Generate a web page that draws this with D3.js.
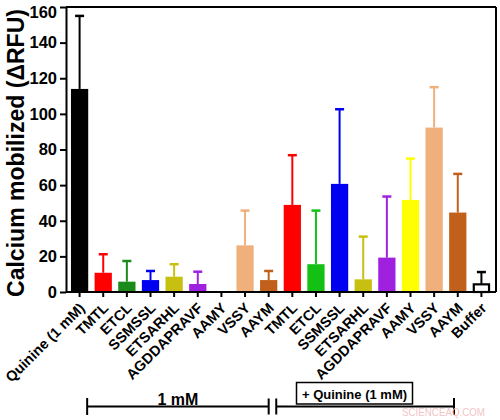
<!DOCTYPE html>
<html>
<head>
<meta charset="utf-8">
<script src="https://cdn.jsdelivr.net/npm/d3@7"></script>
<style>
  html, body { margin: 0; padding: 0; background: #fff; }
  svg { display: block; font-family: "Liberation Sans", Arial, Helvetica, sans-serif; }
</style>
</head>
<body>
<svg id="chart" width="500" height="420"></svg>
<script>
// ---- data ----
const categories = ["Quinine (1 mM)", "TMTL", "ETCL", "SSMSSL", "ETSARHL", "AGDDAPRAVF", "AAMY", "VSSY", "AAYM",
                    "TMTL", "ETCL", "SSMSSL", "ETSARHL", "AGDDAPRAVF", "AAMY", "VSSY", "AAYM", "Buffer"];
const means = [114, 10.8, 5.8, 6.7, 8.6, 4.5, 0, 26.2, 6.7,
               48.9, 15.6, 60.7, 7.1, 19.3, 51.7, 92.3, 44.6, 4.3];
const errors = [41, 10.4, 11.6, 5.1, 7.0, 6.9, 0, 19.5, 5.1,
                27.9, 30.1, 41.9, 24.0, 34.3, 23.2, 22.7, 21.7, 6.9];
const fillColors = ["#000000", "#ff0000", "#1a8a1a", "#0000f0", "#c8c010", "#a020e0", "#ffff00", "#f0b07c", "#c0601a",
                    "#ff0000", "#14c014", "#0000f0", "#c8c010", "#a020e0", "#ffff00", "#f0b07c", "#c0601a", "#ffffff"];
const lineColors = ["#000000", "#ff0000", "#1a8a1a", "#0000f0", "#c8c010", "#a020e0", "#ffff00", "#f0b07c", "#c0601a",
                    "#ff0000", "#14c014", "#0000f0", "#c8c010", "#a020e0", "#ffff00", "#f0b07c", "#c0601a", "#000000"];
const yTicks = [0, 20, 40, 60, 80, 100, 120, 140, 160];
const yTitle = "Calcium mobilized (\u0394RFU)";
const groupLabels = ["1 mM", "+ Quinine (1 mM)"];
const watermark = "SCIENCEAQ.COM";

// ---- layout ----
const svg = d3.select("#chart");
const pLeft = 66, pRight = 496, pTop = 7, pBottom = 292;

const x = d3.scaleBand().domain(d3.range(categories.length))
  .range([pLeft, 495]).paddingInner(0.27).paddingOuter(0.21);
const y = d3.scaleLinear().domain([0, 160]).range([pBottom, pTop]);

const data = categories.map((c, i) => ({ i, c, m: means[i], e: errors[i], f: fillColors[i], s: lineColors[i] }));

// error bars (drawn under bars)
const eb = svg.append("g").selectAll("g").data(data.filter(d => d.m > 0)).join("g");
eb.append("line")
  .attr("x1", d => x(d.i) + x.bandwidth() / 2).attr("x2", d => x(d.i) + x.bandwidth() / 2)
  .attr("y1", d => y(d.m)).attr("y2", d => y(d.m + d.e))
  .attr("stroke", d => d.s).attr("stroke-width", 2);
eb.append("line")
  .attr("x1", d => x(d.i) + x.bandwidth() / 2 - 4.5).attr("x2", d => x(d.i) + x.bandwidth() / 2 + 4.5)
  .attr("y1", d => y(d.m + d.e)).attr("y2", d => y(d.m + d.e))
  .attr("stroke", d => d.s).attr("stroke-width", 2.5);

// bars
svg.append("g").selectAll("rect").data(data.filter(d => d.m > 0)).join("rect")
  .attr("x", d => x(d.i) + (d.c === "Buffer" ? 1 : 0))
  .attr("width", d => x.bandwidth() - (d.c === "Buffer" ? 2 : 0))
  .attr("y", d => y(d.m))
  .attr("height", d => y(0) - y(d.m))
  .attr("fill", d => d.f)
  .attr("stroke", d => d.c === "Buffer" ? "#000" : "none")
  .attr("stroke-width", 2.2);

// frame (top and right)
svg.append("line").attr("x1", pLeft).attr("x2", pRight).attr("y1", pTop).attr("y2", pTop)
  .attr("stroke", "#000").attr("stroke-width", 2);
svg.append("line").attr("x1", pRight).attr("x2", pRight).attr("y1", pTop).attr("y2", pBottom)
  .attr("stroke", "#000").attr("stroke-width", 2);

// y axis
const yAxis = svg.append("g").attr("transform", `translate(${pLeft},0)`)
  .call(d3.axisLeft(y).tickValues(yTicks).tickSize(6).tickPadding(3).tickSizeOuter(0));
yAxis.select(".domain").attr("stroke-width", 2);
yAxis.selectAll(".tick line").attr("stroke-width", 2);
yAxis.selectAll(".tick text").attr("font-size", 16.5).attr("font-weight", "bold").attr("fill", "#000")
  .attr("y", d => d === 160 ? 5 : 0);

// x axis
const xAxis = svg.append("g").attr("transform", `translate(0,${pBottom})`)
  .call(d3.axisBottom(x).tickSize(5).tickSizeOuter(0).tickFormat(i => categories[i]));
xAxis.select(".domain").attr("stroke-width", 2.2).attr("d", `M${pLeft},0H${pRight}`);
xAxis.selectAll(".tick line").attr("stroke-width", 2);
xAxis.selectAll(".tick text")
  .attr("font-size", 14.5).attr("font-weight", "bold").attr("fill", "#000")
  .attr("text-anchor", "end").attr("x", 0).attr("y", 0).attr("dy", 0)
  .attr("transform", "translate(6,17) rotate(-45)");

// y title
svg.append("text")
  .attr("transform", "translate(24,153) rotate(-90)")
  .attr("text-anchor", "middle")
  .attr("font-size", 23).attr("font-weight", "bold")
  .attr("textLength", 288).attr("lengthAdjust", "spacingAndGlyphs")
  .text(yTitle);

// group brackets
const gx = d3.scaleLinear().domain([0, 17]).range([x(0) + x.bandwidth() / 2, x(17) + x.bandwidth() / 2]);
const by = 406.5;
const br = svg.append("g").attr("stroke", "#000").attr("stroke-width", 2).attr("fill", "none");
const b1a = gx(0.32), b1b = gx(8.0), b2a = gx(8.32), b2b = gx(15.84);
br.append("line").attr("x1", b1a).attr("x2", b1b).attr("y1", by).attr("y2", by);
br.append("line").attr("x1", b1a).attr("x2", b1a).attr("y1", by - 8.5).attr("y2", by + 8.5);
br.append("line").attr("x1", b1b).attr("x2", b1b).attr("y1", by - 8).attr("y2", by + 8);
br.append("line").attr("x1", b2a).attr("x2", b2b).attr("y1", by).attr("y2", by);
br.append("line").attr("x1", b2a).attr("x2", b2a).attr("y1", by - 8).attr("y2", by + 8);
br.append("line").attr("x1", b2b).attr("x2", b2b).attr("y1", by - 8.5).attr("y2", by + 8.5);

svg.append("text").attr("x", (b1a + b1b) / 2).attr("y", 405)
  .attr("text-anchor", "middle").attr("font-size", 16).attr("font-weight", "bold")
  .text(groupLabels[0]);

svg.append("rect").attr("x", 296.5).attr("y", 382.5).attr("width", 116).attr("height", 21.5)
  .attr("fill", "#fff").attr("stroke", "#000").attr("stroke-width", 1.5);
svg.append("text").attr("x", 354.5).attr("y", 398.5)
  .attr("text-anchor", "middle").attr("font-size", 13).attr("font-weight", "bold")
  .text(groupLabels[1]);

// watermark
svg.append("text").attr("x", 402).attr("y", 416)
  .attr("font-size", 11).attr("fill", "#f2c4c8")
  .attr("textLength", 83).attr("lengthAdjust", "spacingAndGlyphs")
  .text(watermark);
</script>
</body>
</html>
